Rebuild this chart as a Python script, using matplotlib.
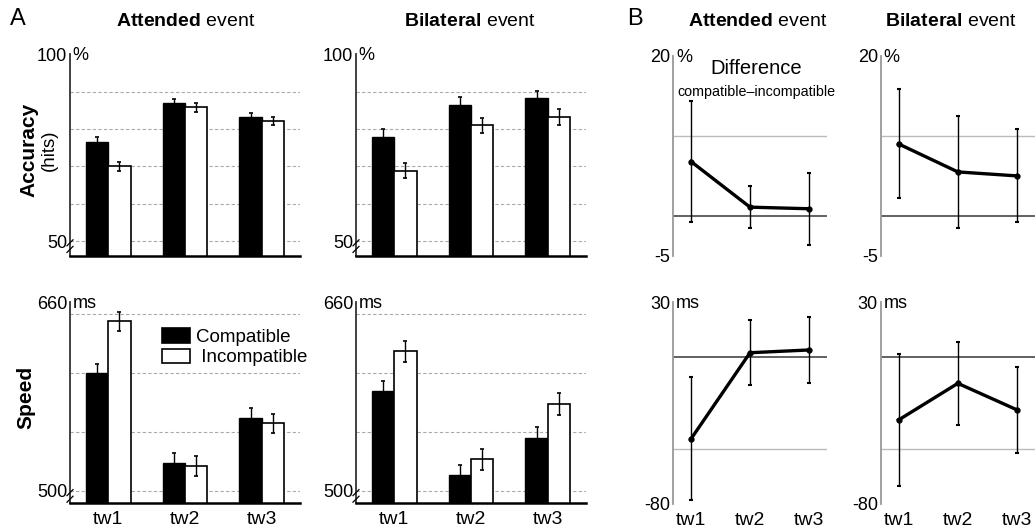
import matplotlib
matplotlib.use("Agg")
import matplotlib.pyplot as plt
from matplotlib.patches import Patch
import numpy as np

plt.rcParams['font.family'] = ['Liberation Sans', 'DejaVu Sans']
plt.rcParams['mathtext.fontset'] = 'custom'
plt.rcParams['mathtext.rm'] = 'Liberation Sans'
plt.rcParams['mathtext.bf'] = 'Liberation Sans:bold'
plt.rcParams['axes.unicode_minus'] = False

# data
windows = ['tw1', 'tw2', 'tw3']

acc_att_comp = [76.6, 87.1, 83.2]
acc_att_comp_err = [1.2, 1.1, 1.1]
acc_att_inc = [70.0, 85.8, 82.2]
acc_att_inc_err = [1.1, 1.1, 1.1]

acc_bil_comp = [78.0, 86.6, 88.4]
acc_bil_comp_err = [2.0, 2.0, 1.9]
acc_bil_inc = [68.8, 81.0, 83.2]
acc_bil_inc_err = [2.0, 2.1, 2.1]

spd_att_comp = [599.5, 524.0, 561.4]
spd_att_comp_err = [7.9, 8.2, 8.5]
spd_att_inc = [643.6, 520.7, 557.1]
spd_att_inc_err = [8.2, 8.5, 8.0]

spd_bil_comp = [584.5, 513.3, 544.9]
spd_bil_comp_err = [8.8, 8.5, 9.3]
spd_bil_inc = [618.4, 526.6, 573.5]
spd_bil_inc_err = [8.8, 9.0, 9.0]

dacc_att = [6.8, 1.1, 0.9]
dacc_att_err = [7.5, 2.6, 4.5]
dacc_bil = [9.0, 5.5, 5.0]
dacc_bil_err = [6.8, 7.0, 5.8]

dspd_att = [-44.5, 2.5, 4.0]
dspd_att_err = [33.5, 17.8, 18.0]
dspd_bil = [-34.2, -14.2, -28.7]
dspd_bil_err = [36.2, 22.6, 23.3]

W, H = 1035, 531
fig = plt.figure(figsize=(W / 100, H / 100), dpi=100)


def add_ax(left, top, right, bottom):
    return fig.add_axes([left / W, 1 - bottom / H, (right - left) / W, (bottom - top) / H])


def unit_label(ax, unit, lo, hi, lo_lab, hi_lab):
    ax.set_ylim(lo, hi)
    ax.set_yticks([float(lo_lab), hi])
    ax.set_yticklabels([lo_lab, hi_lab])
    ax.tick_params(axis='y', length=0, pad=2, labelsize=13)
    ax.annotate(unit, xy=(0, 1), xycoords='axes fraction', xytext=(2, -1),
                textcoords='offset points', ha='left', va='center', fontsize=13)


def break_mark(ax, yval):
    # two short slanted strokes across the left spine
    trans = ax.get_yaxis_transform()
    bb = ax.get_position()
    dx = 3.0 / (bb.width * W)
    ylo, yhi = ax.get_ylim()
    dy = 3.0 / (bb.height * H) * (yhi - ylo)
    for off in [-1.1, 1.1]:
        ax.plot([-dx, dx], [yval + off * dy - dy, yval + off * dy + dy],
                transform=trans, color='black', lw=0.9, clip_on=False, zorder=5)


def bar_panel(ax, comp, comp_err, inc, inc_err, lo, hi, grid, lo_lab, hi_lab, unit, show_x):
    x = np.arange(1, len(windows) + 1)
    w = 0.29
    for g in grid:
        ax.axhline(g, color='#aaaaaa', lw=0.8, ls=(0, (3, 2)), zorder=0)
    ax.bar(x - w / 2, comp, w, yerr=comp_err, color='black', edgecolor='black', lw=1.0,
           error_kw=dict(ecolor='black', elinewidth=1.0, capsize=1.5, capthick=1.2), zorder=2)
    ax.bar(x + w / 2, inc, w, yerr=inc_err, color='white', edgecolor='black', lw=1.2,
           error_kw=dict(ecolor='black', elinewidth=1.0, capsize=1.5, capthick=1.2), zorder=2)
    ax.set_xlim(0.5, 3.5)
    unit_label(ax, unit, lo, hi, lo_lab, hi_lab)
    for s in ['top', 'right']:
        ax.spines[s].set_visible(False)
    ax.spines['left'].set_color('#333333')
    ax.spines['left'].set_linewidth(1.3)
    ax.spines['bottom'].set_linewidth(1.8)
    ax.set_xticks(x)
    if show_x:
        ax.set_xticklabels(windows)
    else:
        ax.set_xticklabels([])
    ax.tick_params(axis='x', length=0, pad=6, labelsize=14)
    break_mark(ax, grid[0] - (hi - lo) * 0.025)


def line_panel(ax, vals, errs, lo, hi, ref, lo_lab, hi_lab, unit, show_x):
    x = np.arange(1, len(windows) + 1)
    ax.axhline(0, color='#555555', lw=1.3, zorder=0)
    ax.axhline(ref, color='#bbbbbb', lw=1.0, zorder=0)
    ax.errorbar(x, vals, yerr=errs, color='black', lw=2.4, marker='o', ms=3.5,
                ecolor='black', elinewidth=1.0, capsize=1.2, capthick=1.5, zorder=3)
    ax.set_xlim(0.7, 3.3)
    unit_label(ax, unit, lo, hi, lo_lab, hi_lab)
    for s in ['top', 'right', 'bottom']:
        ax.spines[s].set_visible(False)
    ax.spines['left'].set_color('#999999')
    ax.spines['left'].set_linewidth(1.3)
    ax.set_xticks(x)
    if show_x:
        ax.set_xticklabels(windows)
    else:
        ax.set_xticklabels([])
    ax.tick_params(axis='x', length=0, pad=6, labelsize=14)


ax1 = add_ax(70, 54.5, 300, 256)
bar_panel(ax1, acc_att_comp, acc_att_comp_err, acc_att_inc, acc_att_inc_err,
          46, 100, [50, 60, 70, 80, 90], '50', '100', '%', False)
ax2 = add_ax(356, 54.5, 586, 256)
bar_panel(ax2, acc_bil_comp, acc_bil_comp_err, acc_bil_inc, acc_bil_inc_err,
          46, 100, [50, 60, 70, 80, 90], '50', '100', '%', False)
ax3 = add_ax(70, 302, 300, 502.7)
bar_panel(ax3, spd_att_comp, spd_att_comp_err, spd_att_inc, spd_att_inc_err,
          490, 660, [500, 550, 600, 650], '500', '660', 'ms', True)
ax4 = add_ax(356, 302, 586, 502.7)
bar_panel(ax4, spd_bil_comp, spd_bil_comp_err, spd_bil_inc, spd_bil_inc_err,
          490, 660, [500, 550, 600, 650], '500', '660', 'ms', True)

handles = [Patch(facecolor='black', edgecolor='black', lw=1.2, label='Compatible'),
           Patch(facecolor='white', edgecolor='black', lw=1.2, label=' Incompatible')]
ax3.legend(handles=handles, loc='upper left', bbox_to_anchor=(0.344, 0.935), frameon=False,
           fontsize=13.5, handlelength=1.5, handleheight=0.8, handletextpad=0.3,
           labelspacing=0.15, borderpad=0.2)

ax5 = add_ax(673.3, 55.8, 826.7, 256)
line_panel(ax5, dacc_att, dacc_att_err, -5, 20, 10, '-5', '20', '%', False)
ax6 = add_ax(880.7, 55.8, 1035, 256)
line_panel(ax6, dacc_bil, dacc_bil_err, -5, 20, 10, '-5', '20', '%', False)
ax7 = add_ax(673.3, 302.3, 826.7, 504)
line_panel(ax7, dspd_att, dspd_att_err, -80, 30, -50, '-80', '30', 'ms', True)
ax8 = add_ax(880.7, 302.3, 1035, 504)
line_panel(ax8, dspd_bil, dspd_bil_err, -80, 30, -50, '-80', '30', 'ms', True)

# panel letters and titles
fig.text(10 / W, 1 - 19 / H, 'A', fontsize=17, ha='left', va='center')
fig.text(627 / W, 1 - 19 / H, 'B', fontsize=17, ha='left', va='center')
for xc, name in [(186, 'Attended'), (470, 'Bilateral'), (758, 'Attended'), (951, 'Bilateral')]:
    fig.text(xc / W, 1 - 22 / H, r'$\bf{' + name + '}$ event', fontsize=14,
             ha='center', va='center')

fig.text(29 / W, 1 - 150 / H, 'Accuracy', fontsize=15, fontweight='bold',
         rotation=90, ha='center', va='center')
fig.text(49 / W, 1 - 150 / H, '(hits)', fontsize=13.5, rotation=90, ha='center', va='center')
fig.text(26 / W, 1 - 397 / H, 'Speed', fontsize=15, fontweight='bold',
         rotation=90, ha='center', va='center')

fig.text(756 / W, 1 - 69 / H, 'Difference', fontsize=14.5, ha='center', va='center')
fig.text(756 / W, 1 - 92 / H, 'compatible\u2013incompatible', fontsize=10.3,
         ha='center', va='center')

fig.savefig('out.png', dpi=100)
